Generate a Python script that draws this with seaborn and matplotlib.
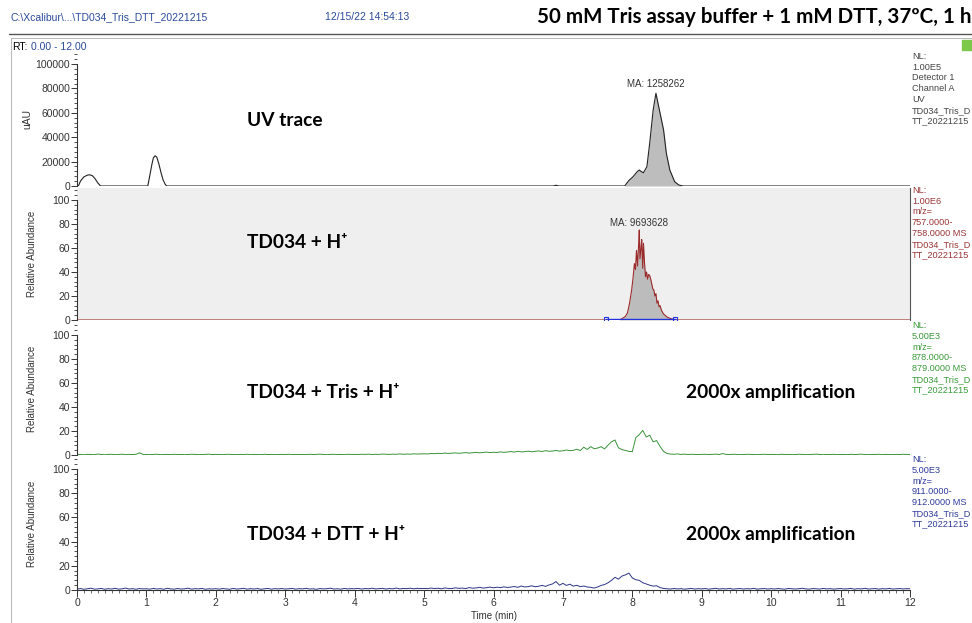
import numpy as np
import pandas as pd
import matplotlib
matplotlib.use("Agg")
import matplotlib.pyplot as plt
import seaborn as sns
from matplotlib.ticker import MultipleLocator
from matplotlib.lines import Line2D
from matplotlib.patches import Rectangle

# ---------------- data ----------------
# UV trace (uAU)
uv_time = [0.00, 0.02, 0.05, 0.10, 0.15, 0.18, 0.22, 0.26, 0.30, 0.34,
           1.02, 1.05, 1.08, 1.10, 1.125, 1.15, 1.18, 1.21, 1.24, 1.27, 1.29,
           6.86, 6.90, 6.94,
           7.89, 7.95, 8.01, 8.07, 8.10, 8.13, 8.16, 8.21, 8.25, 8.30, 8.34,
           8.39, 8.45, 8.49, 8.54, 8.61, 8.67, 8.73, 12.00]
uv_signal = [0, 0, 4000, 7500, 8900, 9200, 8500, 6000, 2500, 0,
             0, 9000, 18000, 23000, 24800, 23500, 18000, 11000, 5000, 1500, 0,
             0, 600, 0,
             0, 4500, 7600, 11700, 13100, 11800, 10900, 15800, 35000, 62300, 76000,
             62300, 45900, 26800, 13100, 3500, 800, 0, 0]

# TD034 + H+ (m/z 757-758), relative abundance
h_time = [0.00, 7.80, 7.85, 7.90, 7.93, 7.96, 7.99, 8.01, 8.03, 8.045, 8.06,
          8.075, 8.09, 8.10, 8.11, 8.125, 8.135, 8.15, 8.16, 8.175, 8.19,
          8.205, 8.22, 8.235, 8.25, 8.265, 8.28, 8.295, 8.31, 8.325, 8.34,
          8.355, 8.37, 8.385, 8.40, 8.42, 8.45, 8.50, 8.55, 8.60, 8.65, 12.00]
h_signal = [0, 0, 1, 3, 6, 14, 25, 35, 47, 42, 58,
            45, 62, 75, 51, 60, 67, 43, 64, 48, 36,
            40, 34, 38, 37, 34, 30, 26, 25, 20, 22,
            14, 16, 11, 12, 8, 5, 2.5, 1.2, 0.4, 0, 0]
h_integration = [7.62, 8.61]

# scans every 0.05 min for the amplified traces (0.00 ... 12.00)
scan_start = 0.0
scan_step = 0.05
tris_signal = [
    0.3, 0.5, 0.2, 0.6, 0.4, 0.3, 0.8, 0.4, 0.2, 0.5, 0.6, 0.3, 0.4, 0.7, 0.3, 0.5, 0.4, 0.6, 1.8, 0.5,
    0.4, 0.3, 0.5, 0.6, 0.3, 0.4, 0.5, 0.3, 0.6, 0.4, 0.5, 0.3, 0.4, 0.6, 0.5, 0.3, 0.4, 0.5, 0.7, 0.4,
    0.5, 0.4, 0.3, 0.6, 0.5, 0.4, 0.3, 0.5, 0.4, 0.6, 0.3, 0.5, 0.4, 0.3, 0.6, 0.4, 0.5, 0.3, 0.4, 0.5,
    0.4, 0.6, 0.3, 0.5, 0.4, 0.5, 0.3, 0.6, 0.4, 0.5, 0.7, 0.4, 0.3, 0.5, 0.6, 0.4, 0.5, 0.3, 0.6, 0.5,
    0.5, 0.4, 0.6, 0.5, 0.7, 0.4, 0.6, 0.5, 0.8, 0.6, 0.5, 0.7, 0.6, 0.9, 0.6, 0.8, 0.7, 1.0, 0.8, 0.9,
    1.0, 0.9, 1.2, 1.1, 1.4, 1.2, 1.6, 1.3, 1.5, 1.8, 1.4, 1.7, 2.0, 1.6, 1.9, 2.2, 1.8, 2.1, 2.4, 2.0,
    2.3, 2.1, 2.6, 2.2, 2.5, 2.9, 2.4, 3.1, 2.6, 2.8, 3.2, 2.7, 3.0, 3.4, 2.9, 3.6, 3.1, 3.3, 3.8, 3.2,
    3.5, 4.2, 3.6, 3.9, 4.8, 3.7, 6.5, 4.6, 7.0, 5.2, 5.8, 6.9, 5.1, 8.2, 11.0, 12.5, 6.0, 4.5, 3.8, 3.0,
    2.8, 14.5, 17.0, 20.5, 15.0, 16.5, 11.0, 12.0, 7.0, 3.0, 1.2, 0.8, 0.6, 0.9, 0.5, 0.7, 0.4, 0.6, 0.5, 0.4,
    0.5, 0.6, 0.4, 0.5, 0.7, 0.4, 1.2, 0.5, 0.4, 0.6, 0.5, 0.3, 0.4, 0.6, 0.5, 0.4, 0.3, 0.5, 0.6, 0.4,
    0.5, 0.4, 0.3, 0.6, 0.4, 0.5, 0.3, 0.4, 0.6, 0.5, 0.3, 0.4, 0.5, 0.7, 0.4, 0.3, 0.5, 0.4, 0.6, 0.3,
    0.4, 0.5, 0.3, 0.6, 0.4, 0.5, 0.7, 0.4, 0.3, 0.5, 0.4, 0.6, 0.3, 0.5, 0.4, 0.3, 0.5, 0.4, 0.6, 0.5,
    0.4]
dtt_signal = [
    0.8, 1.2, 0.6, 1.0, 1.5, 0.7, 0.9, 1.3, 0.6, 1.1, 0.8, 1.4, 0.7, 1.0, 1.6, 0.8, 1.1, 0.6, 1.2, 0.9,
    1.0, 0.7, 1.3, 0.8, 1.1, 0.6, 1.4, 0.9, 0.7, 1.2, 0.8, 1.0, 1.5, 0.7, 1.1, 0.9, 1.3, 0.6, 1.0, 0.8,
    1.1, 0.7, 1.2, 0.9, 0.6, 1.3, 0.8, 1.0, 1.4, 0.7, 1.1, 0.8, 1.2, 0.6, 1.0, 1.3, 0.7, 1.1, 0.9, 1.2,
    0.8, 1.0, 1.3, 0.7, 1.1, 0.9, 1.4, 0.8, 1.0, 0.6, 1.2, 0.9, 1.1, 1.5, 0.8, 1.0, 0.7, 1.3, 0.9, 1.1,
    1.0, 1.3, 0.8, 1.2, 1.0, 1.5, 0.9, 1.1, 1.4, 0.8, 1.2, 1.0, 1.6, 0.9, 1.3, 1.1, 1.5, 1.0, 1.4, 1.2,
    1.3, 1.1, 1.6, 1.2, 1.5, 1.0, 1.7, 1.3, 1.2, 1.8, 1.4, 1.6, 1.2, 2.0, 1.5, 1.7, 2.2, 1.6, 1.9, 2.4,
    1.8, 2.3, 2.0, 2.6, 2.1, 2.4, 2.9, 2.2, 3.3, 2.5, 2.8, 3.5, 2.7, 3.1, 3.8, 3.0, 4.2, 5.0, 7.0, 4.0,
    5.5, 3.8, 4.8, 3.2, 3.9, 2.8, 3.3, 2.5, 2.2, 1.6, 2.5, 3.8, 4.5, 6.0, 8.0, 10.5, 9.0, 11.5, 12.5, 14.0,
    10.0, 8.5, 8.0, 6.0, 5.0, 4.0, 3.2, 3.5, 2.0, 1.3, 1.0, 0.8, 1.2, 0.9, 1.1, 0.7, 1.0, 1.3, 0.8, 1.1,
    0.9, 1.2, 0.7, 1.0, 1.4, 0.8, 1.1, 0.9, 1.3, 0.7, 1.0, 1.2, 0.8, 1.1, 0.9, 1.4, 0.7, 1.0, 1.2, 0.8,
    1.1, 0.8, 1.2, 0.9, 0.7, 1.3, 1.0, 0.8, 1.1, 1.4, 0.9, 0.7, 1.2, 1.0, 0.8, 1.3, 0.9, 1.1, 0.7, 1.0,
    1.2, 0.8, 1.0, 1.3, 0.7, 1.1, 0.9, 1.4, 0.8, 1.0, 1.2, 0.7, 1.1, 0.9, 1.3, 0.8, 1.0, 1.2, 0.9, 1.1,
    1.0]

panel_titles = ["UV trace", "TD034 + H\u207a", "TD034 + Tris + H\u207a", "TD034 + DTT + H\u207a"]
amp_label = "2000x amplification"
ma_labels = ["MA: 1258262", "MA: 9693628"]
x_ticks = [0, 1, 2, 3, 4, 5, 6, 7, 8, 9, 10, 11, 12]
uv_ticks = [0, 20000, 40000, 60000, 80000, 100000]
ra_ticks = [0, 20, 40, 60, 80, 100]
side_labels = [
    "NL:\n1.00E5\nDetector 1\nChannel A\nUV\nTD034_Tris_D\nTT_20221215",
    "NL:\n1.00E6\nm/z=\n757.0000-\n758.0000 MS\nTD034_Tris_D\nTT_20221215",
    "NL:\n5.00E3\nm/z=\n878.0000-\n879.0000 MS\nTD034_Tris_D\nTT_20221215",
    "NL:\n5.00E3\nm/z=\n911.0000-\n912.0000 MS\nTD034_Tris_D\nTT_20221215",
]
header_path = "C:\\Xcalibur\\...\\TD034_Tris_DTT_20221215"
header_date = "12/15/22 14:54:13"
big_title = "50 mM Tris assay buffer + 1 mM DTT, 37\u00baC, 1 h"

# ---------------- style ----------------
sns.set_theme(style="white")
plt.rcParams["font.family"] = ["Liberation Sans", "DejaVu Sans"]

W, H = 972, 623
fig = plt.figure(figsize=(W / 100, H / 100), dpi=100)
fig.patch.set_facecolor("white")

def add_ax(left, top, right, bottom):
    return fig.add_axes([left / W, 1 - bottom / H, (right - left) / W, (bottom - top) / H])

ax1 = add_ax(77, 52, 910, 186)
ax2 = add_ax(77, 188, 910, 320)
ax3 = add_ax(77, 323, 910, 455)
ax4 = add_ax(77, 457, 910, 590)
axes = [ax1, ax2, ax3, ax4]

label_font = ["Lato", "DejaVu Sans"]
tick_col = "#333333"

uv_df = pd.DataFrame({"t": uv_time, "v": uv_signal})
h_df = pd.DataFrame({"t": h_time, "v": h_signal})
tris_df = pd.DataFrame({"t": scan_start + scan_step * np.arange(len(tris_signal)), "v": tris_signal})
dtt_df = pd.DataFrame({"t": scan_start + scan_step * np.arange(len(dtt_signal)), "v": dtt_signal})

# UV
uv_t = np.array(uv_time); uv_v = np.array(uv_signal)
mask = uv_t >= 7.85
ax1.fill_between(uv_t[mask], 0, uv_v[mask], color="#bdbdbd", lw=0)
sns.lineplot(data=uv_df, x="t", y="v", ax=ax1, color="#222222", linewidth=0.8,
             estimator=None, sort=False)
ax1.set_ylim(0, 109836)

# H+
ax2.set_facecolor("#efefef")
ax2.fill_between(h_time, 0, h_signal, color="#bcbcbc", lw=0)
sns.lineplot(data=h_df, x="t", y="v", ax=ax2, color="#9b2a2a", linewidth=0.8,
             estimator=None, sort=False)
ax2.plot(h_integration, [0.6, 0.6], color="#2233dd", lw=1.0)
ax2.plot(h_integration, [0.6, 0.6], ls="none", marker="s", ms=3.5, mfc="none",
         mec="#2233dd", mew=0.8)
ax2.set_ylim(0, 110)

sns.lineplot(data=tris_df, x="t", y="v", ax=ax3, color="#3a933a", linewidth=0.7,
             estimator=None, sort=False)
ax3.set_ylim(0, 110)
sns.lineplot(data=dtt_df, x="t", y="v", ax=ax4, color="#2e3585", linewidth=0.7,
             estimator=None, sort=False)
ax4.set_ylim(0, 110)

for i, ax in enumerate(axes):
    ax.set_xlim(0, 12)
    for s in ["top", "right", "bottom"]:
        ax.spines[s].set_visible(False)
    ax.spines["left"].set_color(tick_col)
    ax.spines["left"].set_linewidth(0.8)
    ax.grid(False)
    ax.set_xlabel("")
    if i == 0:
        ax.set_yticks(uv_ticks)
        ax.yaxis.set_minor_locator(MultipleLocator(4000))
        ax.ticklabel_format(style="plain", axis="y", useOffset=False)
        ax.spines["left"].set_bounds(0, 100000)
        ax.set_ylabel("uAU", fontsize=7.5, color=tick_col, labelpad=2)
    else:
        ax.set_yticks(ra_ticks)
        ax.yaxis.set_minor_locator(MultipleLocator(4))
        ax.spines["left"].set_bounds(0, 100)
        ax.set_ylabel("Relative Abundance", fontsize=7, color=tick_col, labelpad=11)
    ax.tick_params(axis="y", which="major", direction="out", length=4, width=0.7,
                   labelsize=7.5, colors=tick_col, pad=1, left=True)
    ax.tick_params(axis="y", which="minor", direction="out", length=2, width=0.6,
                   colors=tick_col, left=True)
    if i < 3:
        ax.tick_params(axis="x", which="both", bottom=False, labelbottom=False)
    ax.patch.set_alpha(1.0 if i == 1 else 0.0)

ax2.spines["right"].set_visible(True)
ax2.spines["right"].set_color("#555555")
ax2.spines["right"].set_linewidth(0.8)

ax4.spines["bottom"].set_visible(True)
ax4.spines["bottom"].set_color(tick_col)
ax4.spines["bottom"].set_linewidth(0.8)
ax4.set_xticks(x_ticks)
ax4.xaxis.set_minor_locator(MultipleLocator(0.1))
ax4.tick_params(axis="x", which="major", direction="out", length=5, width=0.7,
                labelsize=7.5, colors=tick_col, pad=1, bottom=True)
ax4.tick_params(axis="x", which="minor", direction="out", length=2.5, width=0.5,
                colors=tick_col, bottom=True)
ax4.set_xlabel("Time (min)", fontsize=7, color=tick_col, labelpad=2)

# panel texts
title_kw = dict(fontsize=13.8, fontweight="bold", family=label_font, color="black",
                va="center", ha="left")
ax1.text(2.45, 54000, panel_titles[0], **title_kw)
ax2.text(2.45, 65, panel_titles[1], **title_kw)
ax3.text(2.45, 51.7, panel_titles[2], **title_kw)
ax4.text(2.45, 45.5, panel_titles[3], **title_kw)
ax3.text(8.77, 51.7, amp_label, **title_kw)
ax4.text(8.77, 45.5, amp_label, **title_kw)

ax1.text(8.34, 79500, ma_labels[0], fontsize=7, color="#333333", ha="center", va="bottom")
ax2.text(8.10, 77, ma_labels[1], fontsize=7, color="#333333", ha="center", va="bottom")

side_cols = ["#444444", "#9b3535", "#3a9a3a", "#2e3a9a"]
side_tops = [52, 186, 321, 455]
for lab, col, top in zip(side_labels, side_cols, side_tops):
    fig.text(912 / W, 1 - top / H, lab, fontsize=6.6, color=col, ha="left", va="top",
             linespacing=1.25)

# header
fig.text(10 / W, 1 - 17 / H, header_path, fontsize=7.5, color="#2a4a9a", ha="left", va="center")
fig.text(325 / W, 1 - 17 / H, header_date, fontsize=7.5, color="#2a4a9a", ha="left", va="center")
fig.text(537 / W, 1 - 17 / H, big_title, fontsize=14.8, fontweight="bold",
         family=label_font, color="black", ha="left", va="center")
fig.text(12 / W, 1 - 47 / H, "RT:", fontsize=7.5, color="black", ha="left", va="center")
fig.text(31 / W, 1 - 47 / H, "0.00 - 12.00", fontsize=7.5, color="#2a4a9a", ha="left", va="center")

# frame lines
fig.add_artist(Line2D([9 / W, 1], [1 - 34 / H, 1 - 34 / H], color="#555555", lw=1.0))
fig.add_artist(Line2D([11 / W, 1], [1 - 38 / H, 1 - 38 / H], color="#bbbbbb", lw=0.8))
fig.add_artist(Line2D([11 / W, 11 / W], [0, 1 - 38 / H], color="#bbbbbb", lw=0.8))
fig.add_artist(Rectangle((962 / W, 1 - 50 / H), 10 / W, 10 / H, color="#7cc84a",
                         transform=fig.transFigure))

fig.savefig("out.png", dpi=100)
